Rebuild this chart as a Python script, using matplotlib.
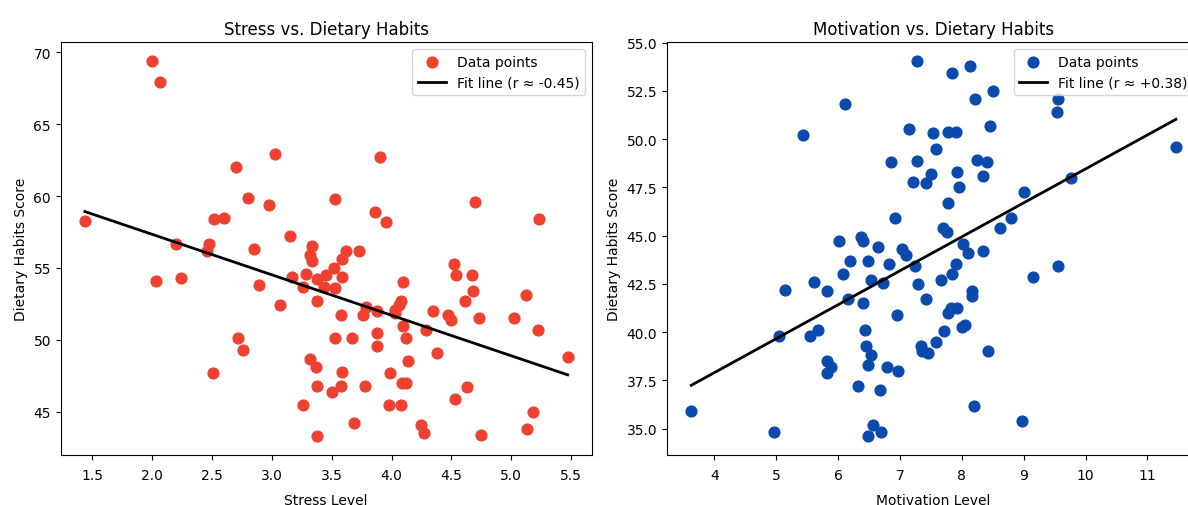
import numpy as np
import matplotlib
matplotlib.use('Agg')
import matplotlib.pyplot as plt

# Stress vs. dietary habits
stress = [1.44, 2.00, 2.07, 2.20, 2.48, 2.46, 2.52, 2.60, 2.70, 2.80, 2.85, 2.98, 3.03, 3.15,
          3.34, 3.32, 3.53, 3.62, 3.73, 3.90, 3.86, 3.95, 4.70, 5.23,
          2.03, 2.24, 2.89, 3.07, 2.72, 2.76, 2.51, 3.17, 3.29, 3.26, 3.34, 3.38, 3.38,
          3.45, 3.44, 3.53, 3.52, 3.59, 3.59, 3.58, 3.53, 3.67, 3.76, 3.79, 3.88, 3.88,
          3.88, 3.32, 3.37, 3.38, 3.50, 3.59, 3.58, 3.78, 3.69, 3.38, 3.26, 3.99, 3.98,
          4.08, 4.09, 4.12, 4.14, 4.12, 4.10, 4.03, 4.06, 4.08, 4.10, 4.03, 4.25, 4.27,
          4.29, 4.38, 4.35, 4.47, 4.50, 4.52, 4.54, 4.53, 4.61, 4.63, 4.67, 4.68, 4.73,
          4.75, 5.02, 5.12, 5.18, 5.13, 5.22, 5.47]
diet_s = [58.3, 69.4, 67.9, 56.7, 56.7, 56.2, 58.4, 58.5, 62.0, 59.9, 56.3, 59.4, 62.9, 57.2,
          56.5, 55.9, 59.8, 56.2, 56.2, 62.7, 58.9, 58.2, 59.6, 58.4,
          54.1, 54.3, 53.8, 52.4, 50.1, 49.3, 47.7, 54.4, 54.6, 53.7, 55.5, 54.2, 52.7,
          54.5, 53.7, 53.6, 55.0, 54.4, 55.6, 51.7, 50.1, 50.1, 51.7, 52.3, 52.0, 50.5,
          49.6, 48.7, 48.1, 46.8, 46.4, 47.8, 46.8, 46.8, 44.2, 43.3, 45.5, 47.7, 45.5,
          45.5, 47.0, 47.0, 48.5, 50.1, 51.0, 52.1, 52.4, 52.7, 54.0, 51.9, 44.1, 43.5,
          50.7, 49.1, 52.0, 51.7, 51.4, 55.3, 54.5, 45.9, 52.7, 46.7, 54.5, 53.4, 51.5,
          43.4, 51.5, 53.1, 45.0, 43.8, 50.7, 48.8]

# Motivation vs. dietary habits
motiv = [5.43, 6.11, 7.28, 7.85, 8.14, 8.50, 8.22, 8.46, 9.54, 9.56, 7.14, 7.53, 7.77, 7.91,
         7.59, 6.86, 7.28, 7.51, 7.22, 7.43, 7.93, 7.96, 8.25, 8.40, 8.35, 7.77, 6.92, 9.00,
         9.77, 11.46, 8.80, 8.62, 7.69, 7.76, 6.02, 6.37, 6.40, 6.65, 7.04, 7.10, 8.02, 8.10,
         8.34, 6.19, 6.48, 6.83, 7.25, 7.91, 7.85, 7.66, 7.29, 6.08, 5.62, 5.14, 5.83, 6.16,
         6.54, 6.73, 6.40, 7.42, 6.43, 6.96, 7.77, 7.83, 7.93, 8.17, 8.17, 8.00, 8.06, 7.71,
         7.59, 7.34, 7.36, 7.45, 8.42, 5.54, 5.68, 5.05, 5.83, 5.88, 5.83, 6.45, 6.53, 6.48,
         6.79, 6.97, 6.32, 6.68, 3.63, 4.97, 6.56, 6.48, 6.69, 8.20, 8.97, 9.15, 9.56]
diet_m = [50.2, 51.8, 54.05, 53.4, 53.8, 52.5, 52.1, 50.7, 51.4, 52.1, 50.5, 50.3, 50.35, 50.35,
          49.5, 48.8, 48.85, 48.2, 47.75, 47.7, 48.3, 47.5, 48.9, 48.8, 48.1, 46.7, 45.9, 47.25,
          48.0, 49.6, 45.9, 45.4, 45.4, 45.2, 44.7, 44.9, 44.7, 44.4, 44.3, 44.0, 44.55, 44.1,
          44.2, 43.7, 43.7, 43.5, 43.4, 43.5, 43.0, 42.7, 42.5, 43.0, 42.6, 42.2, 42.1, 41.7,
          42.7, 42.55, 41.5, 41.7, 40.1, 40.9, 41.0, 41.25, 41.25, 42.1, 41.85, 40.25, 40.35, 40.05,
          39.5, 39.3, 39.0, 38.9, 39.0, 39.8, 40.1, 39.8, 38.5, 38.2, 37.9, 39.3, 38.8, 38.3,
          38.2, 38.0, 37.2, 37.0, 35.9, 34.8, 35.2, 34.6, 34.8, 36.15, 35.4, 42.85, 43.4]

panels = [
    (stress, diet_s, '#ee4130', 'Fit line (r \u2248 -0.45)', 'Stress vs. Dietary Habits', 'Stress Level'),
    (motiv, diet_m, '#0a4aad', 'Fit line (r \u2248 +0.38)', 'Motivation vs. Dietary Habits', 'Motivation Level'),
]

fig = plt.figure(figsize=(11.88, 5.06), dpi=100)
# right panel runs a little past the edge, as in the cropped original
axes = [fig.add_axes([0.0511, 0.0988, 0.447, 0.816]),
        fig.add_axes([0.5615, 0.0988, 0.4487, 0.816])]

for ax, (x, y, col, fit_label, title, xlabel) in zip(axes, panels):
    x = np.array(x)
    y = np.array(y)
    ax.scatter(x, y, s=60, color=col, label='Data points')
    # least squares fit across the data range
    m, b = np.polyfit(x, y, 1)
    xs = np.array([x.min(), x.max()])
    ax.plot(xs, m * xs + b, color='black', linewidth=2, label=fit_label)
    ax.set_title(title, fontsize=12)
    ax.set_xlabel(xlabel, fontsize=10, labelpad=8)
    ax.set_ylabel('Dietary Habits Score', fontsize=10)
    ax.tick_params(axis='x', pad=6)
    ax.legend(loc='upper right', fontsize=10)

plt.savefig('out.png', dpi=100)
